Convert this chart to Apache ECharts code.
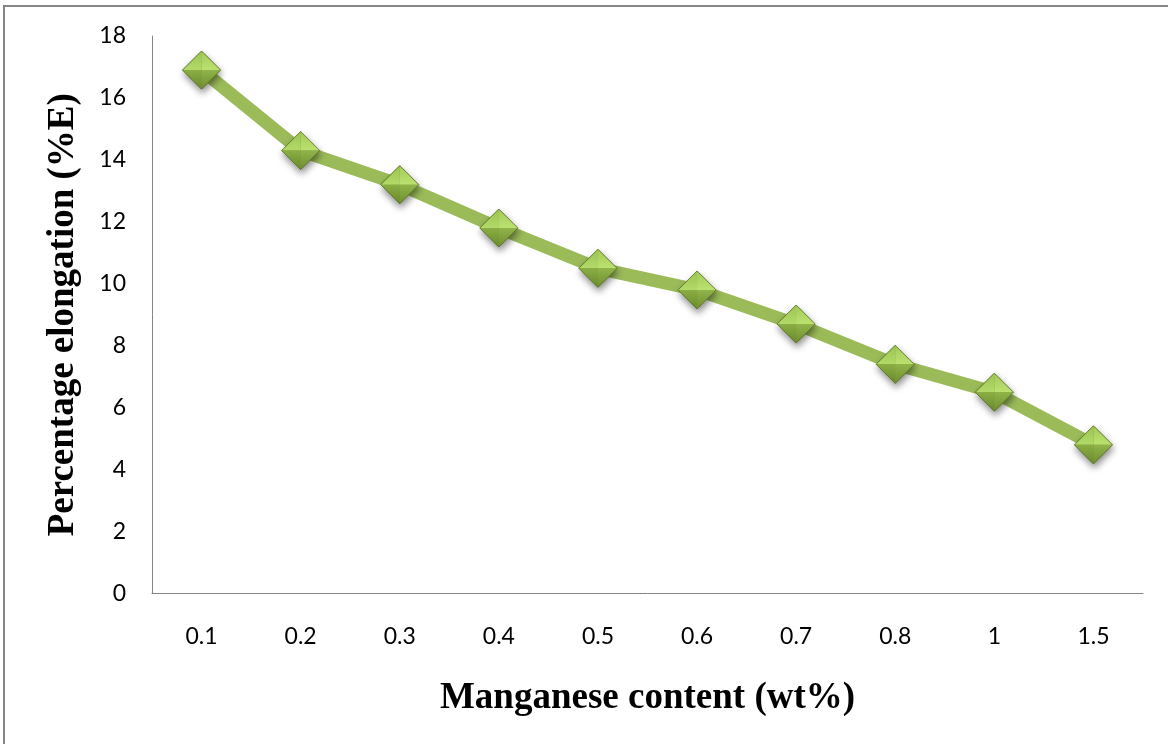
<!DOCTYPE html>
<html>
<head>
<meta charset="utf-8">
<title>Percentage elongation vs manganese content</title>
<script src="https://cdn.jsdelivr.net/npm/echarts@6/dist/echarts.min.js"></script>
<style>
  html, body { margin: 0; padding: 0; background: #fff; }
  #chart { width: 1168px; height: 744px; }
</style>
</head>
<body>
<div id="chart"></div>
<script>
// Manganese content (wt%) categories and measured elongation (%E)
const categories = ['0.1', '0.2', '0.3', '0.4', '0.5', '0.6', '0.7', '0.8', '1', '1.5'];
const elongation = [16.9, 14.3, 13.2, 11.8, 10.5, 9.8, 8.7, 7.4, 6.5, 4.8];
const yTicks = { min: 0, max: 18, step: 2 };

const axisGrey = '#868686';
const lineGreen = '#9bbb59';

function vGrad(top, bottom) {
  return new echarts.graphic.LinearGradient(0, 0, 0, 1, [
    { offset: 0, color: top },
    { offset: 1, color: bottom }
  ]);
}

// Bevelled diamond marker: four faces around a raised centre
function renderDiamond(params, api) {
  const p = api.coord([api.value(0), api.value(1)]);
  const cx = p[0], cy = p[1], h = 19;
  const T = [cx, cy - h], R = [cx + h, cy], B = [cx, cy + h], L = [cx - h, cy], C = [cx, cy];
  return {
    type: 'group',
    children: [
      { type: 'polygon', shape: { points: [L, T, R, B] },
        style: { fill: '#7a9a36', stroke: 'rgba(80,105,30,0.7)', lineWidth: 1,
                 shadowBlur: 7, shadowOffsetX: 1, shadowOffsetY: 4, shadowColor: 'rgba(0,0,0,0.45)' } },
      { type: 'polygon', shape: { points: [L, T, C] }, style: { fill: vGrad('#9cc452', '#b2da68') } },
      { type: 'polygon', shape: { points: [T, R, C] }, style: { fill: vGrad('#a3ca58', '#bbe270') } },
      { type: 'polygon', shape: { points: [R, B, C] }, style: { fill: vGrad('#90b44a', '#6f8e2f') } },
      { type: 'polygon', shape: { points: [B, L, C] }, style: { fill: vGrad('#8aae44', '#6a892b') } },
      { type: 'polygon', shape: { points: [L, T, R, B] },
        style: { fill: 'none', stroke: 'rgba(90,115,35,0.6)', lineWidth: 1 } }
    ]
  };
}

const chart = echarts.init(document.getElementById('chart'), null, { renderer: 'canvas' });

chart.setOption({
  backgroundColor: '#ffffff',
  animation: false,
  graphic: [{
    type: 'rect',
    shape: { x: 4, y: 6, width: 1300, height: 900 },
    style: { fill: 'none', stroke: axisGrey, lineWidth: 2 },
    silent: true,
    z: -1
  }],
  grid: { left: 152, right: 25, top: 36, bottom: 150.5 },
  xAxis: {
    type: 'category',
    data: categories,
    boundaryGap: true,
    name: 'Manganese content (wt%)',
    nameLocation: 'middle',
    nameGap: 86,
    nameTextStyle: { fontFamily: 'Liberation Serif', fontWeight: 'bold', fontSize: 37, color: '#000' },
    axisLine: { show: true, lineStyle: { color: axisGrey, width: 1 } },
    axisTick: { show: false },
    axisLabel: { margin: 32, fontFamily: 'Lato', fontSize: 23, color: '#000' },
    splitLine: { show: false }
  },
  yAxis: {
    type: 'value',
    min: yTicks.min,
    max: yTicks.max,
    interval: yTicks.step,
    name: 'Percentage elongation (%E)',
    nameLocation: 'middle',
    nameRotate: 90,
    nameGap: 70,
    nameTextStyle: { fontFamily: 'Liberation Serif', fontWeight: 'bold', fontSize: 37, color: '#000' },
    axisLine: { show: true, lineStyle: { color: axisGrey, width: 1 } },
    axisTick: { show: false },
    axisLabel: { margin: 26, fontFamily: 'Lato', fontSize: 23, color: '#000' },
    splitLine: { show: false }
  },
  series: [
    {
      type: 'line',
      data: elongation,
      showSymbol: false,
      symbol: 'none',
      lineStyle: { color: lineGreen, width: 13, cap: 'round', join: 'round' },
      z: 2
    },
    {
      type: 'custom',
      data: elongation.map((v, i) => [i, v]),
      encode: { x: 0, y: 1 },
      renderItem: renderDiamond,
      z: 3
    }
  ]
});
</script>
</body>
</html>
